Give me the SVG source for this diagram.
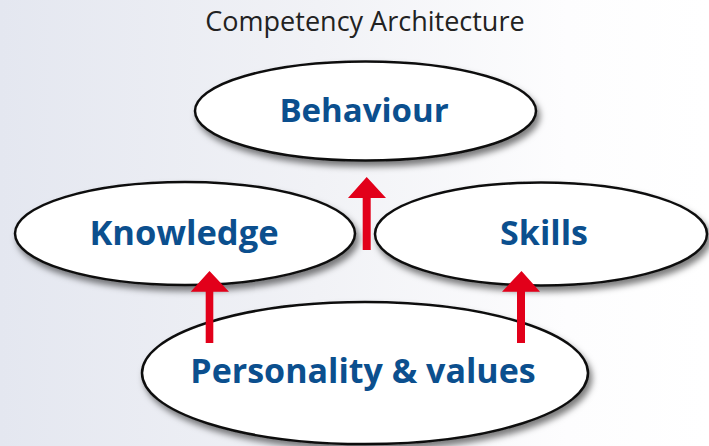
<svg xmlns="http://www.w3.org/2000/svg" width="709" height="446" viewBox="0 0 709 446">
  <defs>
    <linearGradient id="bg" x1="0" y1="0" x2="1" y2="0">
      <stop offset="0" stop-color="#e4e7f0"/>
      <stop offset="0.45" stop-color="#f1f2f6"/>
      <stop offset="0.8" stop-color="#fdfdfe"/>
      <stop offset="1" stop-color="#ffffff"/>
    </linearGradient>
    <filter id="shadow" x="-10%" y="-20%" width="125%" height="150%">
      <feDropShadow dx="3" dy="5" stdDeviation="3" flood-color="#000" flood-opacity="0.5"/>
    </filter>
    <style>
      .node ellipse { fill: #ffffff; stroke: #111111; stroke-width: 2.5; filter: url(#shadow); }
      .label { font-family: "Open Sans", "Noto Sans", sans-serif; font-weight: bold; fill: #0b4f8e; text-anchor: middle; }
      .title { font-family: "Open Sans", "Noto Sans", sans-serif; font-size: 27px; fill: #222222; text-anchor: middle; }
      .arrow { fill: #e2001a; }
    </style>
  </defs>
  <rect x="0" y="0" width="709" height="446" fill="url(#bg)"/>
  <text class="title" x="365" y="31">Competency Architecture</text>

  <g id="node-behaviour" class="node">
    <ellipse cx="365.5" cy="111" rx="170.5" ry="49.5"/>
    <text class="label" x="364" y="122" font-size="33">Behaviour</text>
  </g>
  <g id="node-knowledge" class="node">
    <ellipse cx="185" cy="233.5" rx="170" ry="51.5"/>
    <text class="label" x="184" y="245" font-size="34.5">Knowledge</text>
  </g>
  <g id="node-skills" class="node">
    <ellipse cx="541" cy="234" rx="166" ry="51.5"/>
    <text class="label" x="544" y="245" font-size="34">Skills</text>
  </g>
  <g id="node-personality" class="node">
    <ellipse cx="365" cy="373" rx="223" ry="71"/>
    <text class="label" x="363" y="383" font-size="34">Personality &amp; values</text>
  </g>

  <g id="connectors">
    <polygon id="arrow-behaviour" class="arrow" points="362.7,250 370.7,250 370.7,198 386,198 366.7,177 348,198 362.7,198"/>
    <polygon id="arrow-knowledge" class="arrow" points="205.7,343 213.3,343 213.3,291.7 229,291.7 209.5,271 190.7,291.7 205.7,291.7"/>
    <polygon id="arrow-skills" class="arrow" points="517,343 525,343 525,291.7 540,291.7 521.5,271 502,291.7 517,291.7"/>
  </g>
</svg>
